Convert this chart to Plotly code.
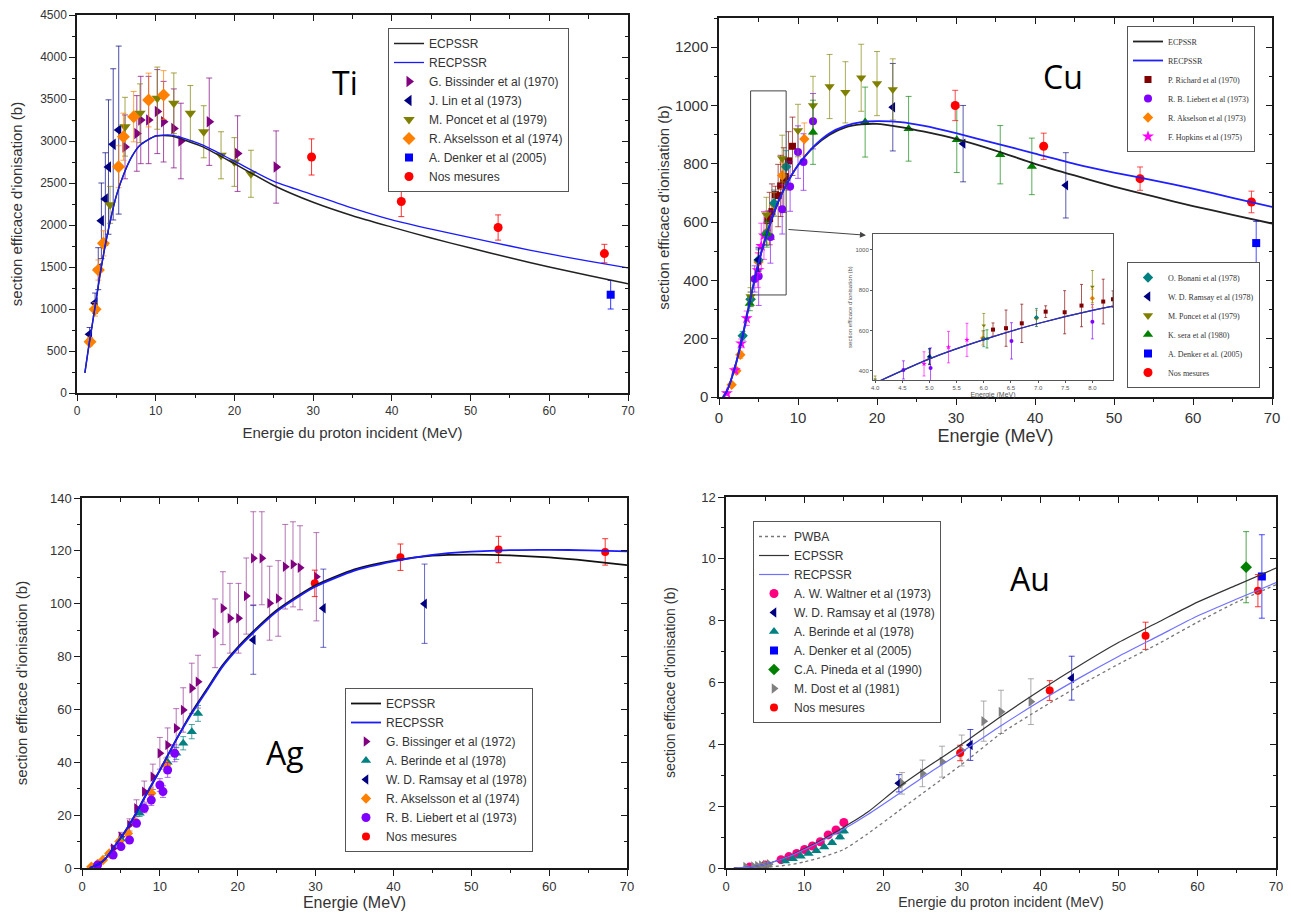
import plotly.graph_objects as go

FONT = "Liberation Sans, Arial, sans-serif"
SERIF = "Liberation Serif, Times New Roman, serif"

# ======================= Ti =======================
ti_curve_energy = [1, 1.5, 2, 2.5, 3, 4, 5, 6, 7, 8, 10, 12, 14, 16, 20, 25, 30, 35, 40, 45, 50, 55, 60, 65, 70]
ti_recpssr = [240, 560, 850, 1150, 1450, 1950, 2350, 2620, 2820, 2950, 3060, 3070, 3020, 2950, 2760, 2520, 2360, 2200, 2060, 1950, 1850, 1750, 1655, 1570, 1490]
ti_ecpssr = [240, 560, 850, 1150, 1450, 1950, 2350, 2620, 2820, 2950, 3060, 3060, 3000, 2930, 2730, 2470, 2270, 2110, 1975, 1845, 1725, 1610, 1500, 1400, 1300]

ti_bissinger_e = [6.1, 7.6, 8.1, 9.1, 10.2, 11.0, 12.3, 13.2, 16.8, 20.4, 25.3]
ti_bissinger_s = [2930, 3090, 3250, 3250, 3350, 3230, 3150, 3000, 3230, 2850, 2690]
ti_bissinger_err = [380, 450, 520, 520, 500, 480, 470, 450, 520, 450, 430]

ti_lin_e = [1.6, 2.3, 2.7, 3.1, 3.6, 4.0, 4.6, 5.3]
ti_lin_s = [700, 1070, 1480, 2050, 2310, 2690, 2960, 3130]
ti_lin_err = [80, 120, 250, 450, 550, 800, 900, 1000]

ti_poncet_e = [4.2, 6.1, 8.0, 10.2, 12.3, 14.4, 16.1, 18.3, 20.0, 22.1]
ti_poncet_s = [2240, 3170, 3330, 3510, 3450, 3330, 3110, 2830, 2750, 2610]
ti_poncet_err = [220, 350, 350, 370, 360, 330, 310, 280, 290, 280]

ti_akselsson_e = [1.66, 2.3, 2.72, 3.36, 5.28, 5.9, 7.2, 9.1, 11.0]
ti_akselsson_s = [611, 996, 1464, 1782, 2694, 3051, 3290, 3488, 3548]
ti_akselsson_err = [50, 80, 120, 150, 250, 280, 300, 320, 290]

ti_denker_e = [67.8]
ti_denker_s = [1170]
ti_denker_err = [170]

ti_nos_e = [29.8, 41.2, 53.5, 67.0]
ti_nos_s = [2810, 2280, 1970, 1660]
ti_nos_err = [215, 180, 150, 110]

# ======================= Cu =======================
cu_curve_energy = [0.5, 1, 2, 3, 4, 5, 6, 7, 8, 9, 10, 12, 14, 16, 18, 20, 23, 26, 30, 35, 40, 45, 50, 55, 60, 65, 70]
cu_recpssr = [0, 20, 100, 210, 340, 460, 555, 635, 700, 752, 795, 860, 905, 930, 943, 946, 943, 930, 905, 870, 835, 800, 770, 743, 715, 683, 652]
cu_ecpssr = [0, 20, 100, 210, 340, 460, 555, 635, 700, 752, 795, 858, 900, 925, 935, 937, 926, 910, 885, 845, 800, 760, 722, 688, 655, 625, 595]

cu_richard_e = [6.17, 6.41, 6.70, 7.14, 7.49, 7.80, 8.20, 8.38, 8.8, 9.3]
cu_richard_s = [605, 612, 636, 694, 691, 724, 744, 756, 810, 860]
cu_richard_err = [33, 90, 95, 29, 107, 105, 111, 41, 100, 100]

cu_liebert_e = [4.52, 5.02, 6.51, 8.0, 9.0, 10.0, 10.7, 11.9]
cu_liebert_s = [405, 414, 549, 644, 722, 840, 806, 946]
cu_liebert_err = [45, 100, 90, 85, 85, 90, 97, 95]

cu_akselson_e = [1.6, 2.2, 2.7, 4.0, 5.0, 5.98, 6.97, 8.0, 10.8]
cu_akselson_s = [42, 90, 145, 335, 463, 563, 661, 760, 885]
cu_akselson_err = [4, 8, 12, 25, 30, 35, 40, 45, 55]

cu_hopkins_e = [1.0, 2.0, 2.8, 3.5, 4.9, 5.35, 5.69]
cu_hopkins_s = [13, 92, 184, 270, 435, 518, 554]
cu_hopkins_err = [3, 8, 15, 25, 60, 78, 82]

cu_bonani_e = [3.0, 4.0, 5.0, 6.0, 6.97, 8.5]
cu_bonani_s = [210, 335, 470, 560, 665, 790]
cu_bonani_err = [15, 25, 35, 40, 45, 55]

cu_ramsay_e = [5.0, 22.0, 30.9, 43.9]
cu_ramsay_s = [471, 994, 869, 726]
cu_ramsay_err = [40, 150, 131, 112]

cu_poncet_e = [4.0, 6.0, 8.0, 10.0, 11.9, 14.0, 16.0, 18.0, 20.0, 22.0]
cu_poncet_s = [345, 625, 818, 914, 1000, 1065, 1045, 1095, 1075, 1055]
cu_poncet_err = [30, 60, 80, 90, 100, 110, 105, 115, 110, 105]

cu_sera_e = [3.9, 6.06, 11.9, 18.5, 24.0, 30.1, 35.6, 39.6]
cu_sera_s = [321, 559, 908, 943, 920, 882, 831, 791]
cu_sera_err = [25, 45, 110, 120, 111, 112, 100, 97]

cu_denker_e = [68.0]
cu_denker_s = [528]
cu_denker_err = [74]

cu_nos_e = [29.9, 41.1, 53.3, 67.4]
cu_nos_s = [1000, 860, 749, 669]
cu_nos_err = [52, 45, 40, 37]

# ======================= Ag =======================
ag_curve_energy = [1, 2, 3, 4, 5, 6, 7, 8, 10, 12, 14, 16, 18, 20, 22, 25, 28, 30, 35, 40, 45, 50, 55, 60, 65, 70]
ag_recpssr = [0.1, 1.2, 3.5, 7.5, 11.5, 16, 21, 26.5, 37, 48, 58, 67, 76, 83, 89, 97, 103, 106.5, 112.5, 116, 118.5, 119.7, 120.3, 120.4, 120.2, 119.8]
ag_ecpssr = [0.1, 1.2, 3.5, 7.5, 11.5, 16, 21, 26.5, 37, 48, 58.5, 67.5, 76.5, 83.5, 89.5, 97.5, 103.5, 107, 113, 116.3, 118.2, 118.6, 118.3, 117.5, 116.2, 114.6]

ag_bissinger_e = [4.0, 5.0, 6.1, 7.0, 8.0, 9.1, 10.0, 11.0, 12.1, 13.0, 14.1, 14.9, 17.1, 18.1, 19.0, 20.1, 21.1, 22.0, 23.1, 24.1, 25.2, 26.1, 27.1, 28.0, 30.1]
ag_bissinger_s = [7.4, 11.8, 16.3, 22.6, 28.9, 34.5, 43.4, 46.5, 52.9, 59.8, 68, 70.5, 88.8, 98.3, 94.5, 94.5, 102.9, 117.2, 117.2, 100.2, 102, 114, 114.9, 113.6, 110.2]
ag_bissinger_err = [1, 1.7, 2.3, 3.2, 4, 4.8, 6, 6.5, 7.4, 8.4, 9.5, 10, 13, 13.8, 13.2, 13.2, 14.4, 17.6, 17.6, 14, 14.3, 16, 16.1, 15.9, 16.7]

ag_berinde_e = [3.5, 5.0, 7.4, 11.0, 12.1, 13.0, 14.1, 14.9]
ag_berinde_s = [5.5, 11, 20.7, 40, 43.4, 47.2, 51.6, 58.5]
ag_berinde_err = [0.5, 0.8, 1.2, 2, 2.3, 2.5, 2.7, 3]

ag_ramsay_e = [22.0, 31.0, 44.0]
ag_ramsay_s = [86.3, 98.3, 100]
ag_ramsay_err = [13, 14.8, 15]

ag_akselsson_e = [1.2, 2.0, 2.7, 3.5, 4.8, 5.9, 6.8, 8.9, 10.8]
ag_akselsson_s = [0.5, 1.5, 3, 5.5, 10, 13.1, 17.5, 28.3, 39]
ag_akselsson_err = [0.1, 0.2, 0.3, 0.5, 0.8, 1, 1.3, 2, 2.6]

ag_liebert_e = [2.0, 4.0, 5.0, 6.1, 7.0, 8.0, 8.9, 10.0, 10.4, 11.0, 11.9]
ag_liebert_s = [1.1, 4.9, 8.1, 10.6, 16.9, 22.6, 25.7, 31.4, 28.9, 37.1, 43.4]
ag_liebert_err = [0.1, 0.4, 0.6, 0.8, 1.3, 1.7, 2, 2.4, 2.2, 2.8, 3.2]

ag_nos_e = [29.9, 40.9, 53.5, 67.2]
ag_nos_s = [107.7, 117.6, 120.5, 119.6]
ag_nos_err = [5, 5, 5, 5]

# ======================= Au =======================
au_curve_energy = [1, 3, 5, 8, 10, 12, 15, 18, 22, 26, 30, 35, 40, 45, 50, 55, 60, 65, 70]
au_pwba = [0, 0.0, 0.02, 0.1, 0.2, 0.33, 0.6, 1.1, 1.85, 2.6, 3.35, 4.35, 5.15, 5.9, 6.6, 7.25, 7.95, 8.6, 9.16]
au_ecpssr = [0, 0.03, 0.12, 0.38, 0.62, 0.88, 1.32, 1.8, 2.62, 3.33, 4.0, 4.9, 5.75, 6.55, 7.3, 7.95, 8.6, 9.15, 9.7]
au_recpssr = [0, 0.03, 0.12, 0.37, 0.6, 0.85, 1.26, 1.72, 2.4, 3.1, 3.75, 4.6, 5.4, 6.15, 6.85, 7.5, 8.15, 8.7, 9.23]

au_waltner_e = [3.0, 5.0, 7.0, 8.0, 9.0, 10.0, 11.0, 12.0, 13.0, 14.0, 15.0]
au_waltner_s = [0.03, 0.1, 0.27, 0.37, 0.47, 0.6, 0.71, 0.85, 1.07, 1.23, 1.47]
au_waltner_err = [0.01, 0.01, 0.02, 0.02, 0.03, 0.03, 0.04, 0.05, 0.06, 0.07, 0.08]

au_ramsay_e = [22.0, 31.1, 44.0]
au_ramsay_s = [2.74, 3.98, 6.14]
au_ramsay_err = [0.28, 0.5, 0.71]

au_berinde_e = [7.5, 8.5, 9.5, 10.5, 11.5, 12.5, 13.5, 14.5, 15.0]
au_berinde_s = [0.23, 0.3, 0.38, 0.47, 0.56, 0.68, 0.82, 1.0, 1.2]
au_berinde_err = [0.02, 0.02, 0.03, 0.03, 0.04, 0.04, 0.05, 0.06, 0.07]

au_denker_e = [68.2]
au_denker_s = [9.43]
au_denker_err = [1.35]

au_pineda_e = [66.2]
au_pineda_s = [9.73]
au_pineda_err = [1.15]

au_dost_e = [2.5, 3.5, 4.0, 4.5, 5.0, 5.5, 22.4, 25.0, 27.5, 30.0, 32.8, 35.0, 38.8]
au_dost_s = [0.03, 0.05, 0.07, 0.08, 0.1, 0.12, 2.74, 3.06, 3.44, 3.8, 4.75, 5.05, 5.38]
au_dost_err = [0.01, 0.01, 0.01, 0.01, 0.01, 0.02, 0.35, 0.43, 0.5, 0.5, 0.65, 0.7, 0.74]

au_nos_e = [29.8, 41.2, 53.4, 67.7]
au_nos_s = [3.72, 5.74, 7.51, 8.97]
au_nos_err = [0.25, 0.32, 0.44, 0.52]

# page body has an 8 px margin: the figure is drawn 8 px in from the window corner
OFF = 8
FIG_W = 1291 - OFF
FIG_H = 918 - OFF


def PX(px):
    return (px - OFF) / FIG_W


def PY(py):
    return 1.0 - (py - OFF) / FIG_H


fig = go.Figure()


def curve(x, y, name, color, xa, ya, legend, rank, width=1.5, dash="solid", showlegend=True):
    fig.add_trace(go.Scatter(x=x, y=y, mode="lines", name=name,
                             line=dict(color=color, width=width, dash=dash, shape="spline", smoothing=0.6),
                             xaxis=xa, yaxis=ya, legend=legend, legendrank=rank,
                             showlegend=showlegend, hoverinfo="skip"))


def points(x, y, err, name, color, bar, symbol, size, xa, ya, legend, rank, showlegend=True, capw=3):
    fig.add_trace(go.Scatter(x=x, y=y, mode="markers", name=name,
                             marker=dict(color=color, symbol=symbol, size=size, line=dict(width=0)),
                             error_y=dict(type="data", array=err, visible=True, color=bar,
                                          thickness=1, width=capw),
                             xaxis=xa, yaxis=ya, legend=legend, legendrank=rank,
                             showlegend=showlegend))


# ---------- Ti ----------
points(ti_bissinger_e, ti_bissinger_s, ti_bissinger_err, "G. Bissinder et al (1970)", "#800080", "rgba(128,0,128,0.7)", "triangle-right", 10, "x", "y", "legend", 3)
points(ti_lin_e, ti_lin_s, ti_lin_err, "J. Lin et al (1973)", "#000080", "rgba(0,0,128,0.7)", "triangle-left", 10, "x", "y", "legend", 4)
points(ti_poncet_e, ti_poncet_s, ti_poncet_err, "M. Poncet et al (1979)", "#808000", "rgba(128,128,0,0.7)", "triangle-down", 10, "x", "y", "legend", 5)
points(ti_akselsson_e, ti_akselsson_s, ti_akselsson_err, "R. Akselsson et al (1974)", "#FF8000", "rgba(255,128,0,0.7)", "diamond", 10, "x", "y", "legend", 6)
points(ti_denker_e, ti_denker_s, ti_denker_err, "A. Denker et al (2005)", "#0000FF", "rgba(0,0,255,0.8)", "square", 8, "x", "y", "legend", 7)
points(ti_nos_e, ti_nos_s, ti_nos_err, "Nos mesures", "#FF0000", "rgba(255,0,0,0.8)", "circle", 9, "x", "y", "legend", 8)
curve(ti_curve_energy, ti_ecpssr, "ECPSSR", "#222222", "x", "y", "legend", 1)
curve(ti_curve_energy, ti_recpssr, "RECPSSR", "#1a1aff", "x", "y", "legend", 2, width=1.3)

# ---------- Cu ----------
cu_series = [
    (cu_richard_e, cu_richard_s, cu_richard_err, "P. Richard et al (1970)", "#800000", "rgba(128,0,0,0.65)", "square", 7, "legend2", 3),
    (cu_liebert_e, cu_liebert_s, cu_liebert_err, "R. B. Liebert et al (1973)", "#8000FF", "rgba(128,0,255,0.65)", "circle", 8, "legend2", 4),
    (cu_akselson_e, cu_akselson_s, cu_akselson_err, "R. Akselson et al (1973)", "#FF8000", "rgba(255,128,0,0.65)", "diamond", 8, "legend2", 5),
    (cu_hopkins_e, cu_hopkins_s, cu_hopkins_err, "F. Hopkins et al (1975)", "#FF00FF", "rgba(255,0,255,0.65)", "star", 9, "legend2", 6),
    (cu_bonani_e, cu_bonani_s, cu_bonani_err, "O. Bonani et al (1978)", "#008080", "rgba(0,128,128,0.65)", "diamond", 8, "legend5", 7),
    (cu_ramsay_e, cu_ramsay_s, cu_ramsay_err, "W. D. Ramsay et al (1978)", "#000080", "rgba(0,0,128,0.65)", "triangle-left", 9, "legend5", 8),
    (cu_poncet_e, cu_poncet_s, cu_poncet_err, "M. Poncet et al (1979)", "#808000", "rgba(128,128,0,0.65)", "triangle-down", 9, "legend5", 9),
    (cu_sera_e, cu_sera_s, cu_sera_err, "K. sera et al (1980)", "#008000", "rgba(0,128,0,0.65)", "triangle-up", 9, "legend5", 10),
    (cu_denker_e, cu_denker_s, cu_denker_err, "A. Denker et al. (2005)", "#0000FF", "rgba(0,0,255,0.7)", "square", 8, "legend5", 11),
    (cu_nos_e, cu_nos_s, cu_nos_err, "Nos mesures", "#FF0000", "rgba(255,0,0,0.7)", "circle", 9, "legend5", 12),
]
for e, s, er, nm, col, bar, sym, sz, lg, rk in cu_series:
    points(e, s, er, nm, col, bar, sym, sz, "x2", "y2", lg, rk)
curve(cu_curve_energy, cu_ecpssr, "ECPSSR", "#222222", "x2", "y2", "legend2", 1, width=1.8)
curve(cu_curve_energy, cu_recpssr, "RECPSSR", "#2020ff", "x2", "y2", "legend2", 2, width=1.8)

# inset copies
for e, s, er, nm, col, bar, sym, sz, lg, rk in cu_series:
    points(e, s, er, nm, col, bar, sym, 4, "x5", "y5", lg, rk, showlegend=False, capw=1.5)
curve(cu_curve_energy, cu_ecpssr, "ECPSSR", "#222266", "x5", "y5", "legend2", 1, width=1.2, showlegend=False)
curve(cu_curve_energy, cu_recpssr, "RECPSSR", "#3030c0", "x5", "y5", "legend2", 2, width=1.2, showlegend=False)

# ---------- Ag ----------
points(ag_bissinger_e, ag_bissinger_s, ag_bissinger_err, "G. Bissinger et al (1972)", "#800080", "rgba(150,60,150,0.7)", "triangle-right", 9, "x3", "y3", "legend3", 3)
points(ag_berinde_e, ag_berinde_s, ag_berinde_err, "A. Berinde et al (1978)", "#008080", "rgba(0,128,128,0.7)", "triangle-up", 9, "x3", "y3", "legend3", 4)
points(ag_ramsay_e, ag_ramsay_s, ag_ramsay_err, "W. D. Ramsay et al (1978)", "#000080", "rgba(0,0,160,0.6)", "triangle-left", 9, "x3", "y3", "legend3", 5)
points(ag_akselsson_e, ag_akselsson_s, ag_akselsson_err, "R. Akselsson et al (1974)", "#FF8000", "rgba(255,128,0,0.7)", "diamond", 8, "x3", "y3", "legend3", 6)
points(ag_liebert_e, ag_liebert_s, ag_liebert_err, "R. B. Liebert et al (1973)", "#8000FF", "rgba(128,0,255,0.6)", "circle", 9, "x3", "y3", "legend3", 7)
points(ag_nos_e, ag_nos_s, ag_nos_err, "Nos mesures", "#FF0000", "rgba(255,0,0,0.8)", "circle", 8, "x3", "y3", "legend3", 8)
curve(ag_curve_energy, ag_ecpssr, "ECPSSR", "#111111", "x3", "y3", "legend3", 1, width=1.8)
curve(ag_curve_energy, ag_recpssr, "RECPSSR", "#1a1aff", "x3", "y3", "legend3", 2, width=1.8)

# ---------- Au ----------
points(au_waltner_e, au_waltner_s, au_waltner_err, "A. W. Waltner et al (1973)", "#FF0080", "rgba(255,0,128,0.7)", "circle", 9, "x4", "y4", "legend4", 4)
points(au_ramsay_e, au_ramsay_s, au_ramsay_err, "W. D. Ramsay et al (1978)", "#000080", "rgba(0,0,200,0.7)", "triangle-left", 9, "x4", "y4", "legend4", 5)
points(au_berinde_e, au_berinde_s, au_berinde_err, "A. Berinde et al (1978)", "#008080", "rgba(0,128,128,0.7)", "triangle-up", 9, "x4", "y4", "legend4", 6)
points(au_denker_e, au_denker_s, au_denker_err, "A. Denker et al (2005)", "#0000FF", "rgba(0,0,255,0.7)", "square", 8, "x4", "y4", "legend4", 7)
points(au_pineda_e, au_pineda_s, au_pineda_err, "C.A. Pineda et al (1990)", "#008000", "rgba(0,128,0,0.7)", "diamond", 9, "x4", "y4", "legend4", 8)
points(au_dost_e, au_dost_s, au_dost_err, "M. Dost et al (1981)", "#808080", "rgba(150,150,150,0.8)", "triangle-right", 9, "x4", "y4", "legend4", 9)
points(au_nos_e, au_nos_s, au_nos_err, "Nos mesures", "#FF0000", "rgba(255,0,0,0.8)", "circle", 8, "x4", "y4", "legend4", 10)
curve(au_curve_energy, au_pwba, "PWBA", "#777777", "x4", "y4", "legend4", 1, width=1.3, dash="dot")
curve(au_curve_energy, au_ecpssr, "ECPSSR", "#333333", "x4", "y4", "legend4", 2, width=1.2)
curve(au_curve_energy, au_recpssr, "RECPSSR", "#7070ff", "x4", "y4", "legend4", 3, width=1.2)

# ---------------- axes ----------------
AX = "#1a1a1a"
axes = {}


def main_axes(n, xdom, ydom, xr, yr, xdt, xmin, ydt, ymin, tsize, xtitle, ytitle, xts, yts, xstand, ystand):
    s = "" if n == 1 else str(n)
    k = str(n + 5)
    common = dict(showline=True, linecolor=AX, linewidth=1.5, mirror=True, ticks="outside", ticklen=6,
                  tickwidth=1.3, tickcolor=AX, showgrid=False, zeroline=False, automargin=False,
                  tickfont=dict(family=FONT, size=tsize, color="#333333"))
    axes["xaxis" + s] = dict(common, domain=xdom, range=xr, dtick=xdt, tick0=0, anchor="y" + s,
                             minor=dict(dtick=xmin, ticks="outside", ticklen=3.5, tickwidth=1, tickcolor=AX, showgrid=False),
                             title=dict(text=xtitle, font=dict(family=FONT, size=xts, color="#333333"), standoff=xstand))
    axes["yaxis" + s] = dict(common, domain=ydom, range=yr, dtick=ydt, tick0=0, anchor="x" + s,
                             minor=dict(dtick=ymin, ticks="outside", ticklen=3.5, tickwidth=1, tickcolor=AX, showgrid=False),
                             title=dict(text=ytitle, font=dict(family=FONT, size=yts, color="#333333"), standoff=ystand))
    # inward-pointing ticks on the top and right frame edges
    inner = dict(ticks="inside", ticklen=6, tickwidth=1.3, tickcolor=AX, showticklabels=False, showline=False,
                 showgrid=False, zeroline=False, automargin=False, fixedrange=True)
    axes["xaxis" + k] = dict(inner, overlaying="x" + s, anchor="y" + k, side="top", range=xr, dtick=xdt, tick0=0,
                             minor=dict(dtick=xmin, ticks="inside", ticklen=3.5, tickcolor=AX, showgrid=False))
    axes["yaxis" + k] = dict(inner, overlaying="y" + s, anchor="x" + k, side="right", range=yr, dtick=ydt, tick0=0,
                             minor=dict(dtick=ymin, ticks="inside", ticklen=3.5, tickcolor=AX, showgrid=False))
    # an empty (markless) trace so that the mirror-tick axes get drawn
    fig.add_trace(go.Scatter(x=[], y=[], xaxis="x" + k, yaxis="y" + k, showlegend=False, hoverinfo="skip"))


YT = "section efficace d'ionisation (b)"
main_axes(1, [PX(77), PX(628)], [PY(393), PY(15)], [0, 70], [0, 4500], 10, 5, 500, 250, 12,
          "Energie du proton incident (MeV)", YT, 15, 15, 10, 14)
main_axes(2, [PX(719), PX(1272)], [PY(397), PY(18)], [0, 70], [0, 1300], 10, 5, 200, 100, 15,
          "Energie (MeV)", YT, 18, 15, 2, 2)
main_axes(3, [PX(82), PX(627)], [PY(868), PY(498)], [0, 70], [0, 140], 10, 5, 20, 10, 13,
          "Energie (MeV)", YT, 16, 15, 0, 19)
main_axes(4, [PX(726), PX(1276)], [PY(868), PY(497)], [0, 70], [0, 12], 10, 5, 2, 1, 13,
          "Energie du proton incident (MeV)", YT, 14, 14, 4, 22)

# inset axes (Cu zoom)
axes["xaxis5"] = dict(domain=[PX(873), PX(1113)], range=[3.96, 8.38], anchor="y5", dtick=0.5, tick0=4.0,
                      tickformat=".1f", showline=True, mirror=True, linecolor="#555555", linewidth=1,
                      ticks="outside", ticklen=2, tickcolor="#555555", showgrid=False, zeroline=False,
                      automargin=False, tickfont=dict(family=FONT, size=6, color="#555555"),
                      title=dict(text="Energie (MeV)", font=dict(family=FONT, size=7, color="#555555"), standoff=1))
axes["yaxis5"] = dict(domain=[PY(380), PY(234)], range=[355, 1079], anchor="x5", dtick=200, tick0=0,
                      showline=True, mirror=True, linecolor="#555555", linewidth=1,
                      ticks="outside", ticklen=2, tickcolor="#555555", showgrid=False, zeroline=False,
                      automargin=False, tickfont=dict(family=FONT, size=6, color="#555555"),
                      title=dict(text=YT, font=dict(family=FONT, size=6, color="#555555"), standoff=2))

leg_common = dict(bgcolor="white", bordercolor="#555555", borderwidth=1, itemwidth=30, tracegroupgap=0,
                  xanchor="left", yanchor="top", traceorder="normal")

fig.update_layout(
    width=FIG_W, height=FIG_H, template="none",
    paper_bgcolor="white", plot_bgcolor="white",
    margin=dict(l=0, r=0, t=0, b=0),
    showlegend=True,
    legend=dict(leg_common, x=PX(388), y=PY(28), font=dict(family=FONT, size=12, color="#333333")),
    legend2=dict(leg_common, x=PX(1127), y=PY(26), font=dict(family=SERIF, size=8, color="#333333")),
    legend5=dict(leg_common, x=PX(1127), y=PY(262), font=dict(family=SERIF, size=8, color="#333333")),
    legend3=dict(leg_common, x=PX(345), y=PY(688), font=dict(family=FONT, size=12, color="#333333")),
    legend4=dict(leg_common, x=PX(753), y=PY(521), font=dict(family=FONT, size=12, color="#333333")),
    **axes,
)

# element labels
for txt, x, y in [("Ti", 345, 82), ("Cu", 1063, 77), ("Ag", 285, 752), ("Au", 1030, 578)]:
    fig.add_annotation(text=txt, x=PX(x), y=PY(y), xref="paper", yref="paper", showarrow=False,
                       xanchor="center", yanchor="middle",
                       font=dict(family="Open Sans, Liberation Sans, sans-serif", size=32, color="black"))

# zoom rectangle and arrow on Cu
fig.add_shape(type="rect", xref="x2", yref="y2", x0=4.0, x1=8.5, y0=350, y1=1050,
              line=dict(color="#444444", width=1))
fig.add_annotation(x=18.6, y=555, ax=8.6, ay=575, xref="x2", yref="y2", axref="x2", ayref="y2",
                   text="", showarrow=True, arrowhead=2, arrowsize=1.2, arrowwidth=1, arrowcolor="#444444")

fig.write_html("out.html")
